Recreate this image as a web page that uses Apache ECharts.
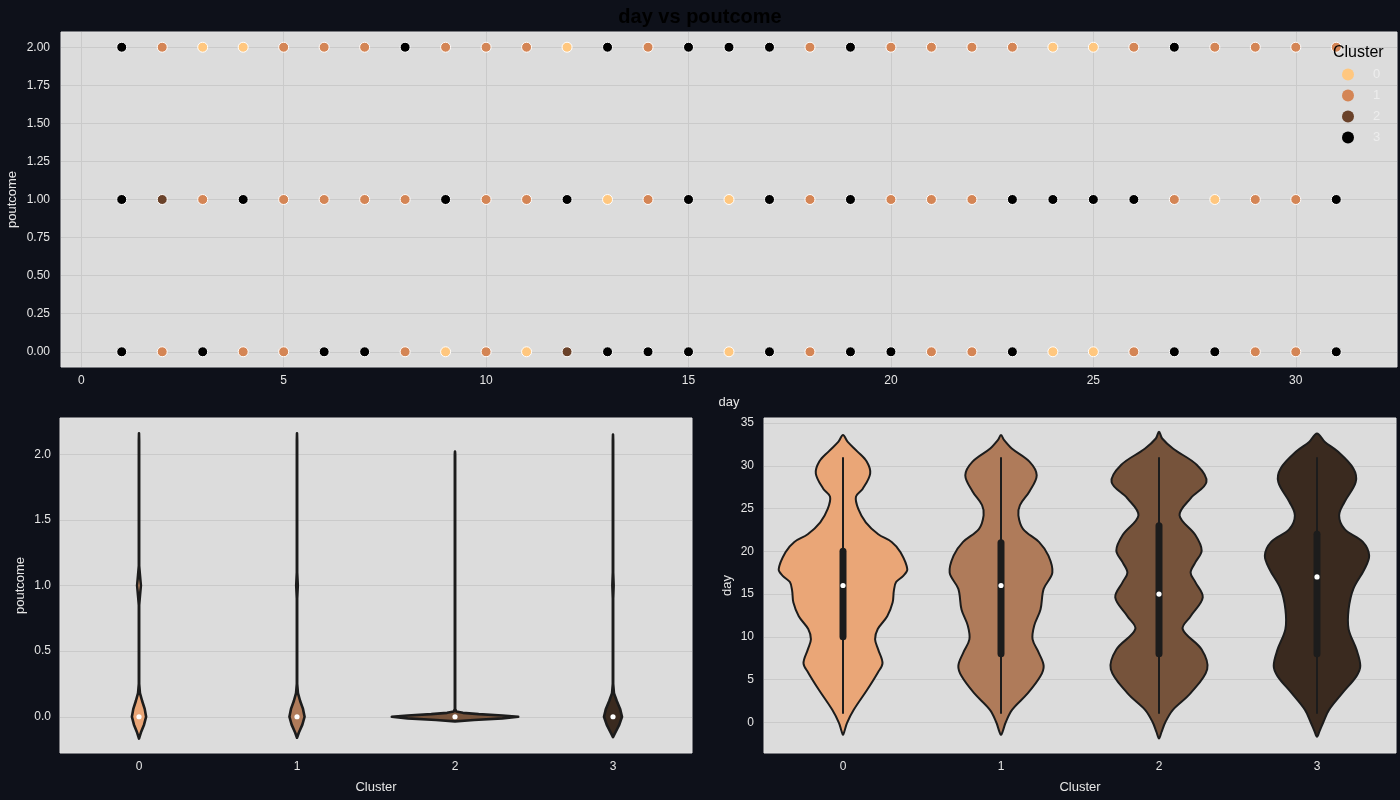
<!DOCTYPE html>
<html><head><meta charset="utf-8">
<script src="https://cdn.jsdelivr.net/npm/echarts@6/dist/echarts.min.js"></script>
<style>html,body{margin:0;padding:0;background:#0E111A;}#c{width:1400px;height:800px;}</style>
</head><body><div id="c"></div><script>
// ---------- data ----------
const days = [1,2,3,4,5,6,7,8,9,10,11,12,13,14,15,16,17,18,19,20,21,22,23,24,25,26,27,28,29,30,31];
// visible cluster of the point at (day, poutcome)
const clusterAtPout2 = [3,1,0,0,1,1,1,3,1,1,1,0,3,1,3,3,3,1,3,1,1,1,1,0,0,1,3,1,1,1,1];
const clusterAtPout1 = [3,2,1,3,1,1,1,1,3,1,1,3,0,1,3,0,3,1,3,1,1,1,3,3,3,3,1,0,1,1,3];
const clusterAtPout0 = [3,1,3,1,1,3,3,1,0,1,0,2,3,3,3,0,3,1,3,3,1,1,3,0,0,1,3,3,1,1,3];
const clusterNames = ['0','1','2','3'];
const clusterTicks = [0,1,2,3];
const dayTicks = [0,5,10,15,20,25,30];
const poutTicksTop = [0,0.25,0.5,0.75,1,1.25,1.5,1.75,2];
const poutTicksViolin = [0,0.5,1,1.5,2];
const dayTicksViolin = [0,5,10,15,20,25,30,35];
const scatterColors = ['#FFC77F','#D48555','#6A422A','#000000'];
const violinColors = ['#EAA677','#AF7B5A','#76533B','#3A2A1F'];

// violin outlines [value, half-width in category units]
const dayViolin0 = [[-1.5,0],[-1,0.01],[-0.1,0.025],[1.45,0.068],[3.8,0.153],[5.8,0.22],[6.9,0.25],[8.5,0.223],[9.7,0.203],[10.9,0.22],[12.4,0.28],[14.0,0.314],[15.4,0.322],[16.4,0.336],[17.1,0.38],[17.9,0.407],[19.9,0.364],[21.1,0.308],[22.0,0.223],[23.4,0.144],[25.0,0.096],[26.4,0.082],[27.3,0.124],[29.1,0.172],[30.5,0.15],[31.7,0.09],[32.8,0.03],[33.6,0]];
const dayViolin1 = [[-1.5,0],[-1,0.012],[0,0.03],[1.45,0.07],[3.4,0.17],[5.4,0.25],[6.6,0.27],[8.1,0.24],[9.7,0.2],[11.3,0.21],[13.2,0.25],[15.6,0.27],[17.5,0.325],[19.5,0.3],[21.1,0.24],[22.6,0.14],[24.2,0.11],[25.4,0.12],[27.0,0.18],[28.9,0.226],[30.5,0.18],[32.0,0.07],[33.0,0.02],[33.6,0]];
const dayViolin2 = [[-1.9,0],[-1.2,0.015],[0,0.04],[1.45,0.088],[3.4,0.2],[6.2,0.305],[8.5,0.27],[10.9,0.15],[12.4,0.2],[14.6,0.277],[16.4,0.23],[17.5,0.2],[18.7,0.23],[20.1,0.27],[21.9,0.23],[24.2,0.13],[26.2,0.2],[28.1,0.3],[30.1,0.24],[32.0,0.09],[33.2,0.02],[34.0,0]];
const dayViolin3 = [[-1.7,0],[-1.1,0.015],[0,0.04],[1.45,0.076],[3.4,0.16],[5.4,0.25],[6.6,0.274],[8.5,0.25],[10.9,0.2],[13.2,0.2],[15.6,0.23],[17.9,0.3],[19.5,0.33],[21.1,0.29],[22.6,0.175],[24.2,0.14],[25.8,0.175],[28.1,0.245],[29.7,0.23],[31.7,0.13],[32.8,0.05],[33.8,0]];
const poutViolin0 = [[-0.166,0],[-0.12,0.012],[-0.06,0.032],[0,0.045],[0.06,0.036],[0.12,0.02],[0.18,0.006],[0.25,0.001],[0.85,0.001],[0.92,0.006],[1.0,0.012],[1.08,0.006],[1.15,0.001],[2.1,0.001],[2.16,0]];
const poutViolin1 = [[-0.16,0],[-0.12,0.012],[-0.06,0.034],[0,0.048],[0.06,0.038],[0.12,0.02],[0.18,0.006],[0.25,0.001],[0.9,0.001],[1.0,0.005],[1.1,0.001],[2.1,0.001],[2.16,0]];
const poutViolin2 = [[-0.035,0],[-0.025,0.12],[-0.012,0.3],[0,0.4],[0.01,0.3],[0.02,0.15],[0.03,0.05],[0.04,0.008],[0.06,0.001],[2.0,0.001],[2.02,0]];
const poutViolin3 = [[-0.155,0],[-0.12,0.015],[-0.06,0.04],[0,0.057],[0.06,0.045],[0.12,0.024],[0.18,0.006],[0.25,0.001],[0.9,0.001],[1.0,0.004],[1.1,0.001],[2.1,0.001],[2.15,0]];
// inner box stats
const dayMin = [1,1,1,1];
const dayMax = [31,31,31,31];
const dayQ1 = [10,8,8,8];
const dayQ3 = [20,21,23,22];
const dayMedian = [16,16,15,17];
const poutMedian = [0,0,0,0];

// ---------- build ----------
const FONT = 'Liberation Sans, Arial, sans-serif';
const LABEL = '#E6E6E6';
const GRIDC = '#CACACA';

const scatterData = [[],[],[],[]];
const rows = [[2, clusterAtPout2],[1, clusterAtPout1],[0, clusterAtPout0]];
rows.forEach(([p, arr]) => arr.forEach((c, i) => scatterData[c].push([days[i], p])));

function violinRender(outlines, medians, boxes, smooth, lw) {
  return function (params, api) {
    const i = params.dataIndex;
    const c = api.value(0);
    const pts = outlines[i];
    const right = pts.map(p => api.coord([c + p[1], p[0]]));
    const left = pts.slice(1, pts.length - 1).reverse().map(p => api.coord([c - p[1], p[0]]));
    const children = [{
      type: 'polygon',
      shape: { points: right.concat(left), smooth: smooth },
      style: { fill: violinColors[i], stroke: '#1C1C1C', lineWidth: lw, lineJoin: 'round' }
    }];
    if (boxes) {
      const a = api.coord([c, boxes.min[i]]), b = api.coord([c, boxes.max[i]]);
      children.push({ type: 'line', shape: { x1: a[0], y1: a[1], x2: b[0], y2: b[1] }, style: { stroke: '#1C1C1C', lineWidth: 2 } });
      const q1 = api.coord([c, boxes.q1[i]]), q3 = api.coord([c, boxes.q3[i]]);
      children.push({ type: 'line', shape: { x1: q1[0], y1: q1[1], x2: q3[0], y2: q3[1] }, style: { stroke: '#1C1C1C', lineWidth: 7, lineCap: 'round' } });
    }
    const m = api.coord([c, medians[i]]);
    children.push({ type: 'circle', shape: { cx: m[0], cy: m[1], r: 2.6 }, style: { fill: '#FFFFFF' } });
    return { type: 'group', children };
  };
}

function gridLineSeries(xi, yi, xs, ys) {
  const data = xs.map(v => ({ xAxis: v })).concat(ys.map(v => ({ yAxis: v })));
  return {
    type: 'scatter', xAxisIndex: xi, yAxisIndex: yi, data: [], z: 1, silent: true,
    markLine: { z: 1, silent: true, symbol: ['none', 'none'], label: { show: false }, animation: false,
      lineStyle: { color: GRIDC, width: 1, type: 'solid' }, emphasis: { disabled: true }, data }
  };
}

const axisCommon = {
  axisLine: { show: false }, axisTick: { show: false }, splitLine: { show: false },
  nameLocation: 'middle', nameTextStyle: { color: LABEL, fontSize: 13, fontFamily: FONT }
};
const lbl = (vals, fmt, margin) => ({ customValues: vals, color: LABEL, fontSize: 12, fontFamily: FONT, margin, formatter: fmt });
const gridBase = { show: true, backgroundColor: '#DCDCDC', borderWidth: 1, borderColor: '#E4E4E4', containLabel: false, outerBoundsMode: 'none' };

const option = {
  backgroundColor: '#0E111A',
  animation: false,
  title: { text: 'day vs poutcome', left: 'center', top: 2, textStyle: { color: '#000000', fontSize: 20, fontWeight: 'bold', fontFamily: FONT } },
  grid: [
    Object.assign({ left: 61, top: 32, width: 1336, height: 335 }, gridBase),
    Object.assign({ left: 60, top: 418, width: 632, height: 335 }, gridBase),
    Object.assign({ left: 764, top: 418, width: 632, height: 335 }, gridBase)
  ],
  xAxis: [
    Object.assign({ gridIndex: 0, type: 'value', min: -0.5, max: 32.5, name: 'day', nameGap: 29, axisLabel: lbl(dayTicks, v => String(v), 8) }, axisCommon),
    Object.assign({ gridIndex: 1, type: 'value', min: -0.5, max: 3.5, name: 'Cluster', nameGap: 28, axisLabel: lbl(clusterTicks, v => String(v), 8) }, axisCommon),
    Object.assign({ gridIndex: 2, type: 'value', min: -0.5, max: 3.5, name: 'Cluster', nameGap: 28, axisLabel: lbl(clusterTicks, v => String(v), 8) }, axisCommon)
  ],
  yAxis: [
    Object.assign({ gridIndex: 0, type: 'value', min: -0.1, max: 2.1, name: 'poutcome', nameGap: 42, nameMoveOverlap: false, axisLabel: lbl(poutTicksTop, v => v.toFixed(2), 11) }, axisCommon),
    Object.assign({ gridIndex: 1, type: 'value', min: -0.276, max: 2.276, name: 'poutcome', nameGap: 33, axisLabel: lbl(poutTicksViolin, v => v.toFixed(1), 9) }, axisCommon),
    Object.assign({ gridIndex: 2, type: 'value', min: -3.6, max: 35.6, name: 'day', nameGap: 30, axisLabel: lbl(dayTicksViolin, v => String(v), 10) }, axisCommon)
  ],
  legend: {
    data: clusterNames, orient: 'vertical', left: 1337, top: 63, itemWidth: 12, itemHeight: 12, itemGap: 8,
    icon: 'circle', itemStyle: { borderWidth: 0 },
    textStyle: { color: '#EDEDED', fontSize: 13, fontFamily: FONT, padding: [0, 0, 0, 14] }
  },
  graphic: [{ type: 'text', left: 1333, top: 45, z: 100, style: { text: 'Cluster', fill: '#000000', font: '16px ' + FONT } }],
  series: [
    gridLineSeries(0, 0, dayTicks, poutTicksTop),
    gridLineSeries(1, 1, [], poutTicksViolin),
    gridLineSeries(2, 2, [], dayTicksViolin)
  ].concat(clusterNames.map((n, c) => ({
    name: n, type: 'scatter', xAxisIndex: 0, yAxisIndex: 0, z: 3,
    data: scatterData[c], symbolSize: 10,
    itemStyle: { color: scatterColors[c], borderColor: '#FFFFFF', borderWidth: 1, opacity: 1 }
  }))).concat([
    {
      type: 'custom', xAxisIndex: 1, yAxisIndex: 1, z: 3, silent: true,
      data: clusterTicks.map((c, i) => [c, poutMedian[i]]),
      renderItem: violinRender([poutViolin0, poutViolin1, poutViolin2, poutViolin3], poutMedian, null, 0, 2.6)
    },
    {
      type: 'custom', xAxisIndex: 2, yAxisIndex: 2, z: 3, silent: true,
      data: clusterTicks.map((c, i) => [c, dayMedian[i]]),
      renderItem: violinRender([dayViolin0, dayViolin1, dayViolin2, dayViolin3], dayMedian,
        { min: dayMin, max: dayMax, q1: dayQ1, q3: dayQ3 }, 0.35, 2)
    }
  ])
};
const chart = echarts.init(document.getElementById('c'), null, { renderer: 'canvas' });
chart.setOption(option);
</script></body></html>
